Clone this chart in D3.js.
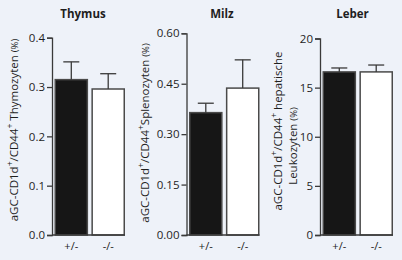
<!DOCTYPE html>
<html><head><meta charset="utf-8">
<script src="https://cdn.jsdelivr.net/npm/d3@7"></script>
<style>
html,body{margin:0;padding:0;background:#eef2f9;}
svg{display:block;}
text{font-family:"Open Sans",sans-serif;fill:#1e1e1e;}
</style></head><body>
<svg id="c" width="402" height="260"></svg>
<script>
const groups = ["+/-", "-/-"];
const panelTitles = ["Thymus", "Milz", "Leber"];
const thymusValues = [0.315, 0.296];
const thymusErrors = [0.036, 0.031];
const milzValues = [0.364, 0.437];
const milzErrors = [0.028, 0.084];
const leberValues = [16.6, 16.6];
const leberErrors = [0.4, 0.7];
const thymusTicks = [0, 0.1, 0.2, 0.3, 0.4];
const milzTicks = [0, 0.15, 0.30, 0.45, 0.60];
const leberTicks = [0, 5, 10, 15, 20];

const svg = d3.select("#c");
const fills = ["#161616", "#ffffff"];

const panels = [
  {title: panelTitles[0], values: thymusValues, errors: thymusErrors, ticks: thymusTicks, max: 0.4, fmt: d3.format(".1f"),
   ax: 52, top: 37.7, titleX: 83, labelLines: [[["aGC-CD1d",0],["+",1],["/CD44",0],["+",1],[" Thymozyten ",0],["(%)",2]]], labelX: [18], labelY: [130]},
  {title: panelTitles[1], values: milzValues, errors: milzErrors, ticks: milzTicks, max: 0.6, fmt: d3.format(".2f"),
   ax: 186.5, top: 33.3, titleX: 222, labelLines: [[["aGC-CD1d",0],["+",1],["/CD44",0],["+",1],["Splenozyten ",0],["(%)",2]]], labelX: [149], labelY: [133]},
  {title: panelTitles[2], values: leberValues, errors: leberErrors, ticks: leberTicks, max: 20, fmt: d3.format("d"),
   ax: 320, top: 38.5, titleX: 352.5, labelLines: [[["aGC-CD1d",0],["+",1],["/CD44",0],["+",1],[" hepatische",0]], [["Leukozyten ",0],["(%)",2]]], labelX: [282, 297], labelY: [131, 146]}
];
const y0 = 235;

panels.forEach(p => {
  const g = svg.append("g");
  const y = d3.scaleLinear().domain([0, p.max]).range([y0, p.top]);
  const x = d3.scaleBand().domain(groups).range([p.ax + 2.5, p.ax + 73]).paddingInner(0.09).paddingOuter(0);

  g.selectAll("rect.bar").data(p.values).join("rect")
    .attr("x", (d,i) => x(groups[i]) + 0.75)
    .attr("y", d => y(d))
    .attr("width", x.bandwidth() - 1.5)
    .attr("height", d => y0 - y(d))
    .attr("fill", (d,i) => fills[i])
    .attr("stroke", "#4a4a4a").attr("stroke-width", 1.5);

  p.values.forEach((v,i) => {
    const cx = x(groups[i]) + x.bandwidth()/2;
    g.append("line").attr("x1", cx).attr("x2", cx).attr("y1", y(v)).attr("y2", y(v + p.errors[i]))
      .attr("stroke", "#3a3a3a").attr("stroke-width", 1.3);
    g.append("line").attr("x1", cx - 8).attr("x2", cx + 8).attr("y1", y(v + p.errors[i])).attr("y2", y(v + p.errors[i]))
      .attr("stroke", "#3a3a3a").attr("stroke-width", 1.3);
  });

  g.append("line").attr("x1", p.ax).attr("x2", p.ax + 73).attr("y1", y0).attr("y2", y0)
    .attr("stroke", "#3a3a3a").attr("stroke-width", 1.3);

  const yAxis = d3.axisLeft(y).tickValues(p.ticks).tickFormat(p.fmt).tickSize(5).tickPadding(2);
  const ga = g.append("g").attr("transform", `translate(${p.ax},0)`).call(yAxis);
  ga.select(".domain").attr("stroke", "#3a3a3a").attr("stroke-width", 1.3);
  ga.selectAll(".tick line").attr("stroke", "#3a3a3a").attr("stroke-width", 1.3);
  ga.selectAll(".tick text").style("font-family", "'Open Sans',sans-serif").style("font-size", "11.5px").attr("fill", "#1e1e1e");

  groups.forEach(gr => {
    g.append("text").attr("x", x(gr) + x.bandwidth()/2).attr("y", 250).attr("text-anchor", "middle")
      .style("font-size", "11px").text(gr);
  });

  g.append("text").attr("x", p.titleX).attr("y", 18).attr("text-anchor", "middle")
    .style("font-size", "11.5px").style("font-weight", "bold").text(p.title);

  p.labelLines.forEach((line, li) => {
    const t = g.append("text")
      .attr("transform", `translate(${p.labelX[li]},${p.labelY[li]}) rotate(-90)`)
      .attr("text-anchor", "middle").style("font-size", "11.5px");
    line.forEach(([s, kind]) => {
      const ts = t.append("tspan").text(s);
      if (kind === 1) ts.style("font-size", "8.5px").attr("baseline-shift", "super");
      if (kind === 2) ts.style("font-size", "9.5px");
    });
  });
});
</script>
</body></html>
